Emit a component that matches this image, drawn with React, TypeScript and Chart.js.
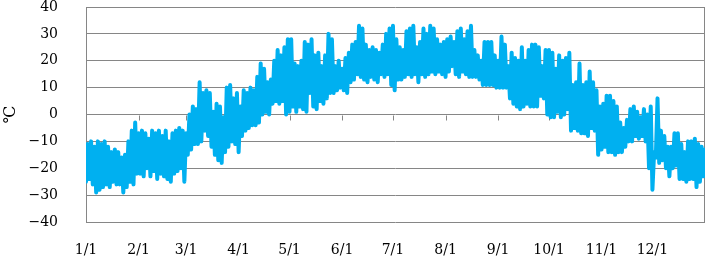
import React, { useEffect, useRef } from "react";
import { Chart, registerables } from "chart.js";

Chart.register(...registerables);

// Day index (0 = Jan 1) of each month start, and its label
const monthStarts = [0, 31, 59, 90, 120, 151, 181, 212, 243, 273, 304, 334];
const monthLabels = ["1/1", "2/1", "3/1", "4/1", "5/1", "6/1", "7/1", "8/1", "9/1", "10/1", "11/1", "12/1"];

// Y-axis ticks
const yMin = -40;
const yMax = 40;
const yStep = 10;

// High / low temperature (℃) of each 2-day span, Jan 1 .. Dec 31
const highs = [
  // Jan
  -11, -10, -12, -10, -11, -10, -12, -14, -13, -14, -16, -15, -10, -6, -3, -7,
  // Feb
  -6, -7, -9, -6, -7, -6, -8, -6, -10, -7, -6, -5, -6, -7,
  // Mar
  0, 3, 2, 12, 8, 9, 8, 1, 4, 3, -1, 10, 11, 6, 8,
  // Apr
  3, 9, 8, 10, 9, 14, 19, 17, 12, 13, 20, 24, 22, 25, 28,
  // May
  28, 19, 18, 20, 27, 26, 28, 22, 23, 18, 22, 30, 28, 18, 20, 17,
  // Jun
  21, 23, 26, 27, 33, 32, 26, 24, 25, 24, 23, 26, 30, 32, 33,
  // Jul
  28, 25, 24, 31, 32, 33, 25, 27, 32, 30, 33, 32, 28, 26, 27,
  // Aug
  28, 29, 27, 31, 32, 28, 31, 33, 24, 22, 20, 27, 27, 27, 22, 20,
  // Sep
  29, 26, 18, 23, 21, 20, 25, 20, 24, 26, 26, 25, 18, 24, 24,
  // Oct
  23, 17, 22, 20, 21, 23, 11, 12, 19, 11, 12, 16, 12, 9, 3,
  // Nov
  4, 7, 7, 5, 3, -3, -5, -2, 2, 3, 1, -1, 2, 0, 3,
  // Dec
  -14, 6, -6, -8, -12, -12, -7, -7, -11, -14, -10, -10, -9, -11, -12, -13,
];

const lows = [
  // Jan
  -25, -24, -26, -29, -28, -27, -26, -27, -25, -26, -26, -29, -27, -25, -26, -22,
  // Feb
  -22, -23, -20, -23, -21, -24, -22, -23, -24, -25, -22, -21, -20, -25,
  // Mar
  -15, -13, -11, -11, -10, -6, -8, -12, -15, -17, -18, -14, -12, -10, -11,
  // Apr
  -14, -8, -6, -5, -4, -4, -3, 0, 1, 0, 4, 5, 4, 5, 0,
  // May
  1, 3, 1, 3, 2, 1, 8, 3, 2, 5, 4, 6, 8, 8, 9, 10,
  // Jun
  9, 8, 12, 13, 15, 14, 13, 12, 14, 13, 12, 15, 14, 15, 11,
  // Jul
  9, 13, 13, 14, 15, 14, 15, 12, 15, 14, 15, 16, 15, 16, 15,
  // Aug
  14, 16, 18, 15, 14, 16, 15, 14, 14, 14, 13, 11, 11, 11, 11, 10,
  // Sep
  10, 10, 10, 6, 4, 3, 2, 3, 4, 3, 3, 3, 7, 6, 0,
  // Oct
  -1, -1, 1, -1, 0, 2, -6, -5, -6, -7, -7, -8, -5, -6, -15,
  // Nov
  -13, -12, -14, -14, -15, -14, -14, -12, -10, -10, -8, -9, -8, -10, -20,
  // Dec
  -28, -16, -18, -17, -20, -23, -20, -19, -24, -24, -25, -24, -24, -27, -25, -23,
];

const FONT = "'DejaVu Serif', 'Liberation Serif', serif";
const GRID = "#868686";

export default function App() {
  const ref = useRef<HTMLCanvasElement>(null);

  useEffect(() => {
    const canvas = ref.current;
    if (!canvas) return;

    const points: { x: number; y: number }[] = [];
    highs.forEach((h, i) => {
      points.push({ x: 2 * i, y: lows[i] });
      points.push({ x: 2 * i + 1, y: h });
    });

    const framePlugin = {
      id: "frame",
      beforeDatasetsDraw(chart: any) {
        const { ctx, chartArea, scales } = chart;
        ctx.save();
        ctx.strokeStyle = GRID;
        ctx.lineWidth = 1;
        ctx.beginPath();
        const l = Math.round(chartArea.left) + 0.5;
        const r = Math.round(chartArea.right) - 0.5;
        ctx.moveTo(l, chartArea.top);
        ctx.lineTo(l, chartArea.bottom);
        ctx.moveTo(r, chartArea.top);
        ctx.lineTo(r, chartArea.bottom);
        const y0 = Math.round(scales.y.getPixelForValue(0)) + 0.5;
        monthStarts.forEach((d) => {
          const x = Math.round(scales.x.getPixelForValue(d)) + 0.5;
          ctx.moveTo(x, y0);
          ctx.lineTo(x, y0 + 5);
        });
        ctx.stroke();
        ctx.restore();
      },
    };

    const chart = new Chart(canvas, {
      type: "line",
      data: {
        datasets: [
          {
            data: points,
            borderColor: "#00B0F0",
            backgroundColor: "#00B0F0",
            borderWidth: 4,
            pointRadius: 0,
            tension: 0,
            borderJoinStyle: "round",
            borderCapStyle: "round",
            fill: false,
          },
        ],
      },
      options: {
        responsive: false,
        animation: false,
        devicePixelRatio: 1,
        layout: { padding: { top: 7, right: 3, left: 0, bottom: 0 } },
        plugins: { legend: { display: false }, tooltip: { enabled: false } },
        scales: {
          x: {
            type: "linear",
            min: 0,
            max: 365,
            afterBuildTicks: (s: any) => {
              s.ticks = monthStarts.map((v) => ({ value: v }));
            },
            afterFit: (s: any) => {
              s.height = 36;
              s.paddingLeft = 0;
              s.paddingRight = 0;
            },
            ticks: {
              autoSkip: false,
              maxRotation: 0,
              padding: 13,
              color: "#000",
              font: { family: FONT, size: 14, lineHeight: 1 },
              callback: (_v: any, i: number) => monthLabels[i],
            },
            grid: { display: false },
            border: { display: false },
          },
          y: {
            min: yMin,
            max: yMax,
            afterFit: (s: any) => {
              s.width = 86;
              s.paddingTop = 0;
              s.paddingBottom = 0;
            },
            ticks: {
              stepSize: yStep,
              padding: 28,
              color: "#000",
              font: { family: FONT, size: 14, lineHeight: 1 },
              callback: (v: any) => String(v).replace("-", "\u2212"),
            },
            grid: { color: GRID, lineWidth: 1, drawTicks: false },
            border: { display: false },
            title: {
              display: true,
              text: "℃",
              color: "#000",
              padding: { top: 1, bottom: 0 },
              font: { family: FONT, size: 16, lineHeight: 1.2 },
            },
          },
        },
      },
      plugins: [framePlugin],
    } as any);

    return () => chart.destroy();
  }, []);

  return (
    <div style={{ position: "fixed", left: 0, top: 0, width: 708, height: 258, background: "#fff" }}>
      <canvas ref={ref} width={708} height={258} style={{ width: 708, height: 258, display: "block" }} />
    </div>
  );
}
